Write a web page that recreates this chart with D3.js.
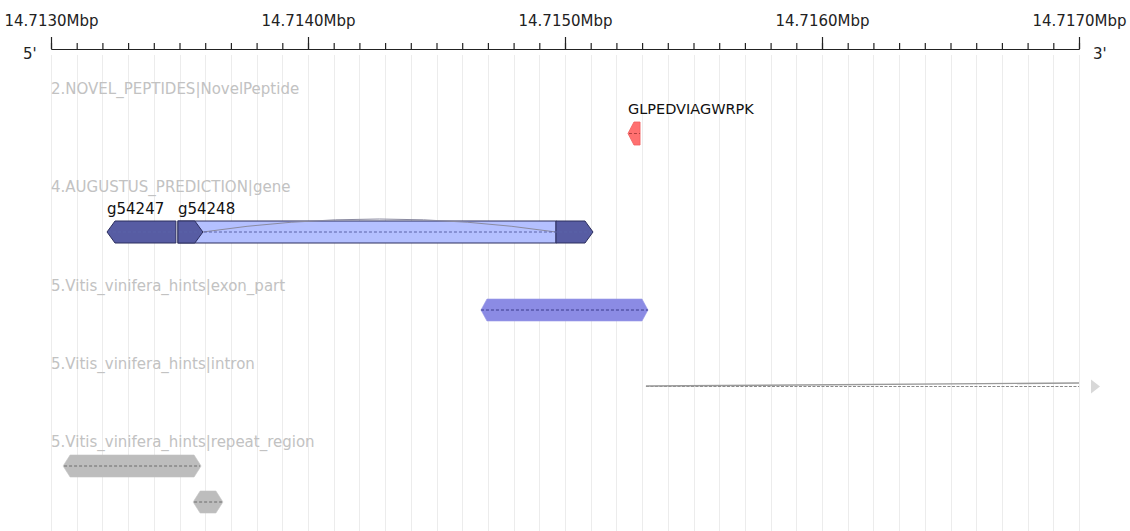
<!DOCTYPE html>
<html>
<head>
<meta charset="utf-8">
<script src="https://cdn.jsdelivr.net/npm/d3@7"></script>
<style>
  html, body { margin: 0; padding: 0; background: #fff; }
  svg { display: block; font-family: "DejaVu Sans", sans-serif; }
</style>
</head>
<body>
<svg id="chart" width="1130" height="531"></svg>
<script>
// Genomic window (bp)
const viewRange = [14713000, 14717000];
const majorTicks = [14713000, 14714000, 14715000, 14716000, 14717000];
const minorStep = 100;

// Track titles, top to bottom
const trackNames = [
  "2.NOVEL_PEPTIDES|NovelPeptide",
  "4.AUGUSTUS_PREDICTION|gene",
  "5.Vitis_vinifera_hints|exon_part",
  "5.Vitis_vinifera_hints|intron",
  "5.Vitis_vinifera_hints|repeat_region"
];

// Features per track
const peptideNames = ["GLPEDVIAGWRPK"];
const peptideStarts = [14715245];
const peptideEnds = [14715292];
const peptideStrands = [-1];

const geneNames = ["g54247", "g54248"];
const geneStarts = [14713218, 14713494];
const geneEnds = [14713486, 14715109];
const geneStrands = [-1, 1];
const geneCds = [
  [[14713218, 14713486]],
  [[14713494, 14713591], [14714965, 14715109]]
];

const exonPartStarts = [14714673];
const exonPartEnds = [14715323];

const intronStarts = [14715315];
const intronEnds = [14717400];

const repeatStarts = [14713047, 14713553];
const repeatEnds = [14713584, 14713669];

const svg = d3.select("#chart");
const W = 1130, H = 531;
const x = d3.scaleLinear().domain(viewRange).range([51, 1079]);
const axisY = 49;
const FONT = 15;

// Vertical grid at every 100 bp
const gridTicks = d3.range(viewRange[0], viewRange[1] + 1, minorStep);
svg.append("g").selectAll("line").data(gridTicks).join("line")
  .attr("x1", d => Math.round(x(d)) + 0.5).attr("x2", d => Math.round(x(d)) + 0.5)
  .attr("y1", 55).attr("y2", H)
  .attr("stroke", "#ececec").attr("stroke-width", 1);

// Ruler
const minorAxis = d3.axisTop(x).tickValues(gridTicks).tickSize(6).tickSizeOuter(0).tickFormat("");
const majorAxis = d3.axisTop(x).tickValues(majorTicks).tickSize(12).tickSizeOuter(0)
  .tickPadding(11).tickFormat(d => (d / 1e6).toFixed(4) + "Mbp");
const gMinor = svg.append("g").attr("transform", `translate(0,${axisY})`).call(minorAxis);
const gMajor = svg.append("g").attr("transform", `translate(0,${axisY})`).call(majorAxis);
[gMinor, gMajor].forEach(g => {
  g.selectAll("path.domain").attr("stroke", "#222").attr("stroke-width", 1.2);
  g.selectAll(".tick line").attr("stroke", "#222").attr("stroke-width", 1.2);
});
gMajor.selectAll(".tick text").attr("font-size", FONT).attr("font-family", "DejaVu Sans").attr("fill", "#222");

svg.append("text").attr("x", 23).attr("y", 59).attr("font-size", FONT).attr("fill", "#222").text("5'");
svg.append("text").attr("x", 1093).attr("y", 59).attr("font-size", FONT).attr("fill", "#222").text("3'");

// Track titles
const titleY = [94, 192, 291, 369, 447];
svg.append("g").selectAll("text").data(trackNames).join("text")
  .attr("x", 51).attr("y", (d, i) => titleY[i])
  .attr("font-size", FONT).attr("fill", "#c2c2c2").text(d => d);

// Glyph outline: arrow at the strand end, pointed both ends when unstranded
function glyph(x0, x1, top, h, strand, head) {
  const yc = top + h / 2, bot = top + h;
  const hl = Math.min(head, (x1 - x0) / 2);
  const left = strand === -1 || strand === 0;
  const right = strand === 1 || strand === 0;
  const pts = [];
  if (left) { pts.push([x0, yc], [x0 + hl, top]); } else { pts.push([x0, top]); }
  if (right) { pts.push([x1 - hl, top], [x1, yc], [x1 - hl, bot]); } else { pts.push([x1, top], [x1, bot]); }
  if (left) { pts.push([x0 + hl, bot]); } else { pts.push([x0, bot]); }
  return "M" + pts.map(p => p.join(",")).join("L") + "Z";
}

function centerDash(g, x0, x1, yc, color) {
  g.append("line").attr("x1", x0).attr("x2", x1).attr("y1", yc).attr("y2", yc)
    .attr("stroke", color).attr("stroke-width", 1).attr("stroke-dasharray", "3,2");
}

// Novel peptides
const pepTop = 122, rowH = 22;
const gPep = svg.append("g");
peptideNames.forEach((name, i) => {
  const x0 = x(peptideStarts[i]), x1 = x(peptideEnds[i]);
  gPep.append("path").attr("d", glyph(x0, x1, pepTop, 23, peptideStrands[i], 6))
    .attr("fill", "#ff7070").attr("stroke", "#f06060").attr("stroke-width", 0.8);
  centerDash(gPep, x0 + 1, x1, pepTop + 11.5, "#b04040");
  gPep.append("text").attr("x", x0).attr("y", pepTop - 8)
    .attr("font-size", FONT - 0.5).attr("fill", "#111").text(name);
});

// Gene models
const geneTop = 221;
const gGene = svg.append("g");
const darkFill = "#575ca3", lightFill = "#b4c0ff", edge = "#2c2e5e";
geneNames.forEach((name, i) => {
  const gs = x(geneStarts[i]), ge = x(geneEnds[i]);
  const yc = geneTop + rowH / 2;
  const cds = geneCds[i];
  if (cds.length > 1) {
    // untranslated / intronic span between coding blocks
    const a = x(cds[0][1]), b = x(cds[cds.length - 1][0]);
    gGene.append("rect").attr("x", gs).attr("y", geneTop).attr("width", b - gs).attr("height", rowH)
      .attr("fill", lightFill).attr("stroke", edge).attr("stroke-width", 1);
    // intron connector
    gGene.append("path")
      .attr("d", `M${a},${yc}Q${(a + b) / 2},${geneTop - 15} ${b},${yc}`)
      .attr("fill", "none").attr("stroke", "#8a8aa0").attr("stroke-width", 1);
  }
  cds.forEach((c, j) => {
    const c0 = x(c[0]), c1 = x(c[1]);
    const s = geneStrands[i] === 1 ? 1 : (j === 0 ? -1 : 2);
    gGene.append("path").attr("d", glyph(c0, c1, geneTop, rowH, s, 8))
      .attr("fill", darkFill).attr("stroke", edge).attr("stroke-width", 1);
  });
  centerDash(gGene, gs + 1, ge - 1, yc, "#5b63a8");
  gGene.append("text").attr("x", gs).attr("y", geneTop - 7)
    .attr("font-size", FONT).attr("fill", "#111").text(name);
});

// Exon parts
const exonTop = 299;
const gExon = svg.append("g");
exonPartStarts.forEach((s, i) => {
  const x0 = x(s), x1 = x(exonPartEnds[i]);
  gExon.append("path").attr("d", glyph(x0, x1, exonTop, rowH, 0, 6))
    .attr("fill", "#8b8be4").attr("stroke", "#9a9ae8").attr("stroke-width", 0.6);
  centerDash(gExon, x0, x1, exonTop + 11, "#3a3a8a");
});

// Introns (clipped to the view, continuation marker on the right)
const intronY = 386.5;
const gIntron = svg.append("g");
intronStarts.forEach((s, i) => {
  const x0 = x(s);
  const xe = Math.min(x(intronEnds[i]), x(viewRange[1]));
  gIntron.append("line").attr("x1", x0).attr("x2", xe).attr("y1", intronY).attr("y2", intronY)
    .attr("stroke", "#8a8a8a").attr("stroke-width", 1).attr("stroke-dasharray", "3,1.5");
  gIntron.append("line").attr("x1", x0).attr("x2", xe).attr("y1", intronY - 0.5).attr("y2", intronY - 3.5)
    .attr("stroke", "#9a9a9a").attr("stroke-width", 1.4);
  if (x(intronEnds[i]) > x(viewRange[1])) {
    const tx = x(viewRange[1]) + 12;
    gIntron.append("path").attr("d", `M${tx},${intronY - 7}L${tx + 9},${intronY}L${tx},${intronY + 7}Z`)
      .attr("fill", "#d8d8d8");
  }
});

// Repeat regions, stacked to avoid overlap
const repeatTops = [455, 491];
const gRep = svg.append("g");
repeatStarts.forEach((s, i) => {
  const x0 = x(s), x1 = x(repeatEnds[i]);
  gRep.append("path").attr("d", glyph(x0, x1, repeatTops[i], rowH, 0, 7))
    .attr("fill", "#bdbdbd").attr("stroke", "#c4c4c4").attr("stroke-width", 0.6);
  centerDash(gRep, x0 + 1, x1 - 1, repeatTops[i] + 11, "#6d6d6d");
});
</script>
</body>
</html>
